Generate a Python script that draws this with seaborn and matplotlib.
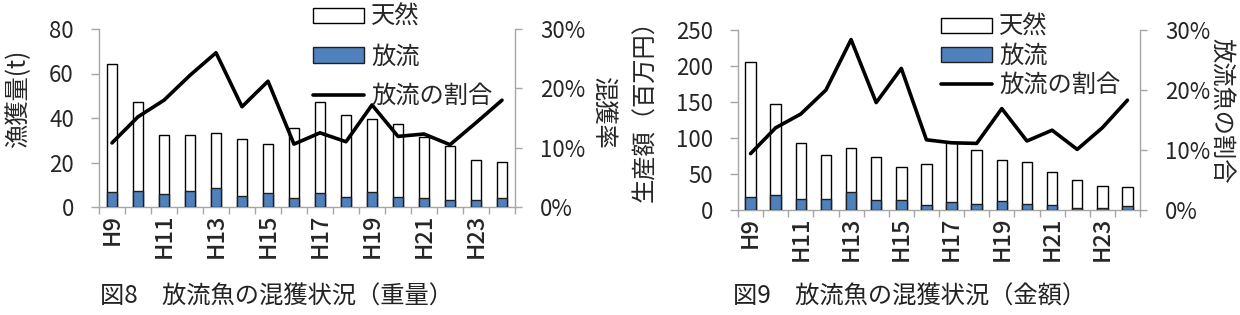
import numpy as np
import matplotlib
matplotlib.use("Agg")
import matplotlib.pyplot as plt
import seaborn as sns
from matplotlib.patches import Patch
from matplotlib.lines import Line2D
from matplotlib.ticker import PercentFormatter

sns.set_theme(style="white")
plt.rcParams['font.family'] = ['Noto Sans CJK JP', 'DejaVu Sans']

years = ["H9", "H10", "H11", "H12", "H13", "H14", "H15", "H16",
         "H17", "H18", "H19", "H20", "H21", "H22", "H23", "H24"]

# Figure 8: weight (t)
w_natural = [57.6, 39.7, 26.5, 24.9, 24.8, 25.5, 21.9, 31.7,
             40.7, 36.9, 32.5, 32.6, 27.6, 24.3, 18.1, 16.1]
w_released = [6.7, 7.3, 5.7, 7.3, 8.5, 5.1, 6.4, 4.0,
              6.3, 4.6, 6.9, 4.6, 4.0, 3.0, 3.0, 4.0]
w_ratio = [0.108, 0.152, 0.180, 0.222, 0.260, 0.169, 0.212, 0.106,
           0.125, 0.110, 0.172, 0.119, 0.123, 0.105, 0.142, 0.180]

# Figure 9: value (million yen)
v_natural = [186.5, 126.7, 77.2, 61.0, 61.0, 59.6, 46.2, 55.9,
             83.4, 74.4, 57.3, 58.2, 45.8, 38.3, 30.0, 26.4]
v_released = [18.5, 20.3, 15.2, 15.2, 25.0, 13.4, 13.4, 7.4,
              10.6, 8.3, 12.0, 8.3, 6.9, 2.8, 2.8, 5.0]
v_ratio = [0.094, 0.137, 0.160, 0.200, 0.284, 0.179, 0.236, 0.117,
           0.112, 0.111, 0.169, 0.115, 0.133, 0.101, 0.137, 0.183]

legend_labels = ["天然", "放流", "放流の割合"]

BLUE = "#4F81BD"
GREY = "#A6A6A6"
FS = 16
LFS = 17.5

fig = plt.figure(figsize=(12.4, 3.15), dpi=100)
W, H = 1240, 315


def panel(rect, natural, released, ratio, ymax, ystep, ylabel, y2label,
          ylab_xy, y2lab_xy):
    ax = fig.add_axes(rect)
    totals = [a + b for a, b in zip(natural, released)]
    sns.barplot(x=years, y=totals, color="white", edgecolor="black",
                linewidth=1.0, width=0.42, saturation=1, ax=ax, zorder=2)
    sns.barplot(x=years, y=released, color=BLUE, edgecolor="#1F1F1F",
                linewidth=1.0, width=0.42, saturation=1, ax=ax, zorder=3)
    ax.set_xlim(-0.5, len(years) - 0.5)
    ax.set_ylim(0, ymax)
    ax.set_yticks(np.arange(0, ymax + 0.1, ystep))
    ax.set_xticks(np.arange(-0.5, len(years), 1.0))
    ax.set_xticklabels([])
    ax.set_xticks(np.arange(0, len(years), 2), minor=True)
    ax.set_xticklabels(years[::2], minor=True, rotation=90, fontsize=17,
                       fontweight="medium")
    ax.tick_params(axis="x", which="major", direction="out", length=5,
                   width=1, color=GREY, bottom=True)
    ax.tick_params(axis="x", which="minor", length=0, pad=5, bottom=True)
    ax.tick_params(axis="y", direction="out", length=6, width=1,
                   color=GREY, left=True, pad=12, labelsize=FS)
    for s in ["top", "right"]:
        ax.spines[s].set_visible(False)
    for s in ["left", "bottom"]:
        ax.spines[s].set_color(GREY)
        ax.spines[s].set_linewidth(1)
    ax.set_ylabel(ylabel, fontsize=LFS, va="center", rotation=90)
    ax.yaxis.set_label_coords(*ylab_xy)
    ax.set_xlabel("")

    ax2 = ax.twinx()
    sns.lineplot(x=np.arange(len(years)), y=ratio, color="black",
                 linewidth=2.6, ax=ax2, zorder=4)
    ax2.set_ylim(0, 0.30)
    ax2.set_yticks([0, 0.1, 0.2, 0.3])
    ax2.yaxis.set_major_formatter(PercentFormatter(1.0, decimals=0))
    ax2.tick_params(axis="y", direction="out", length=5, width=1,
                    color=GREY, right=True, pad=13, labelsize=FS)
    for s in ["top", "left", "bottom"]:
        ax2.spines[s].set_visible(False)
    ax2.spines["right"].set_color(GREY)
    ax2.spines["right"].set_linewidth(1)
    ax2.set_ylabel(y2label, fontsize=LFS, rotation=270, va="center")
    ax2.yaxis.set_label_coords(*y2lab_xy)
    ax2.set_xlim(-0.5, len(years) - 0.5)
    return ax, ax2


def handles():
    return [Patch(facecolor="white", edgecolor="black", linewidth=1),
            Patch(facecolor=BLUE, edgecolor="#1F1F1F", linewidth=1),
            Line2D([0], [0], color="black", linewidth=2.6)]


# Panel 1
r1 = [99 / W, 1 - 207 / H, 416 / W, 178 / H]
panel(r1, w_natural, w_released, w_ratio, 80, 20, "漁獲量(t)", "混獲率",
      (-0.195, 0.61), (1.212, 0.53))
fig.legend(handles(), legend_labels, loc="upper left",
           bbox_to_anchor=(313 / W, 1 - 4 / H), frameon=False, fontsize=LFS,
           handlelength=2.1, handleheight=0.6, handletextpad=0.3,
           labelspacing=0.55, borderpad=0, borderaxespad=0)

# Panel 2
r2 = [738 / W, 1 - 210 / H, 402 / W, 180 / H]
panel(r2, v_natural, v_released, v_ratio, 250, 50, "生産額（百万円）",
      "放流魚の割合", (-0.231, 0.583), (1.204, 0.55))
fig.legend(handles(), legend_labels, loc="upper left",
           bbox_to_anchor=(941 / W, 1 - 14 / H), frameon=False, fontsize=LFS,
           handlelength=2.1, handleheight=0.6, handletextpad=0.3,
           labelspacing=0.12, borderpad=0, borderaxespad=0)

fig.text(100 / W, 1 - 297 / H, "図8　放流魚の混獲状況（重量）",
         fontsize=LFS, va="center", ha="left", color="#222222")
fig.text(733 / W, 1 - 297 / H, "図9　放流魚の混獲状況（金額）",
         fontsize=LFS, va="center", ha="left", color="#222222")

fig.savefig("out.png", dpi=100)
